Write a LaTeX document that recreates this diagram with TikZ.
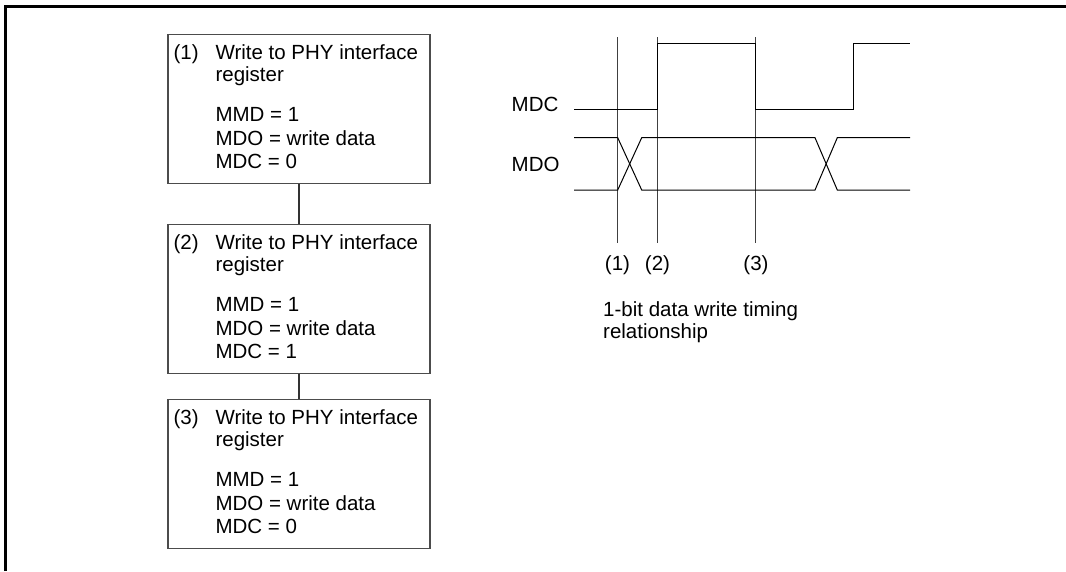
\documentclass[tikz,border=0pt]{standalone}
\usepackage{fontspec}
\setmainfont{Liberation Sans}
\usetikzlibrary{calc}
\tikzset{
  lbl/.style={inner sep=0pt, font=\fontsize{20.5}{22.5}\selectfont, anchor=base west},
  clbl/.style={lbl, anchor=base},
  stepbox/.style={draw=black!70, line width=1.3pt, minimum width=262pt, minimum height=149pt, inner sep=0pt},
  wave/.style={line width=1pt, black},
  marker/.style={line width=0.8pt, black!75},
  frame/.style={line width=2.5pt, black},
  link/.style={line width=1.2pt, black!80}
}
\newcommand\steptext[3]{%
  \node[lbl] (#1n) at ($(#1.north west)+(6,26)$) {(#2)};
  \node[lbl] (#1a) at ($(#1.north west)+(48,26)$) {Write to PHY interface};
  \node[lbl] (#1b) at ($(#1.north west)+(48,48)$) {register};
  \node[lbl] (#1c) at ($(#1.north west)+(48,88)$) {MMD = 1};
  \node[lbl] (#1d) at ($(#1.north west)+(48,112)$) {MDO = write data};
  \node[lbl] (#1e) at ($(#1.north west)+(48,135)$) {MDC = #3};
}
\begin{document}
\begin{tikzpicture}[x=1pt,y=-1pt]
\useasboundingbox (0,0) rectangle (1066,571);
% outer frame
\draw[frame] (5.5,571) -- (5.5,6.5) -- (1066,6.5);

% flow boxes
\node[stepbox] (b1) at (299,109) {};
\node[stepbox] (b2) at (299,299) {};
\node[stepbox] (b3) at (299,474) {};
\steptext{b1}{1}{0}
\steptext{b2}{2}{1}
\steptext{b3}{3}{0}
\draw[link] (b1.south) -- (b2.north);
\draw[link] (b2.south) -- (b3.north);

% timing markers
\coordinate (m1t) at (617.7,37);  \coordinate (m1b) at (617.7,243);
\coordinate (m2t) at (657.7,37);  \coordinate (m2b) at (657.7,243);
\coordinate (m3t) at (755.3,37);  \coordinate (m3b) at (755.3,243);
\draw[marker] (m1t) -- (m1b);
\draw[marker] (m2t) -- (m2b);
\draw[marker] (m3t) -- (m3b);
\node[clbl] (l1) at (617.5,270) {(1)};
\node[clbl] (l2) at (657.5,270) {(2)};
\node[clbl] (l3) at (756,270) {(3)};

% signal labels
\node[lbl] (mdc) at (511.5,111.7) {MDC};
\node[lbl] (mdo) at (511.5,171) {MDO};

% MDC waveform
\draw[wave] (574,109) -- (657.7,109) -- (657.7,43.3) -- (755.3,43.3) -- (755.3,109)
  -- (853,109) -- (853,43.3) -- (910,43.3);
% MDO waveform
\draw[wave] (574,137.7) -- (617.7,137.7) -- (641.7,190) -- (815,190) -- (837.3,137.7) -- (910,137.7);
\draw[wave] (574,190) -- (617.7,190) -- (641.7,137.7) -- (815,137.7) -- (837.3,190) -- (910,190);

% caption
\node[lbl] (cap1) at (603,316) {1-bit data write timing};
\node[lbl] (cap2) at (603,338.3) {relationship};
\end{tikzpicture}
\end{document}
